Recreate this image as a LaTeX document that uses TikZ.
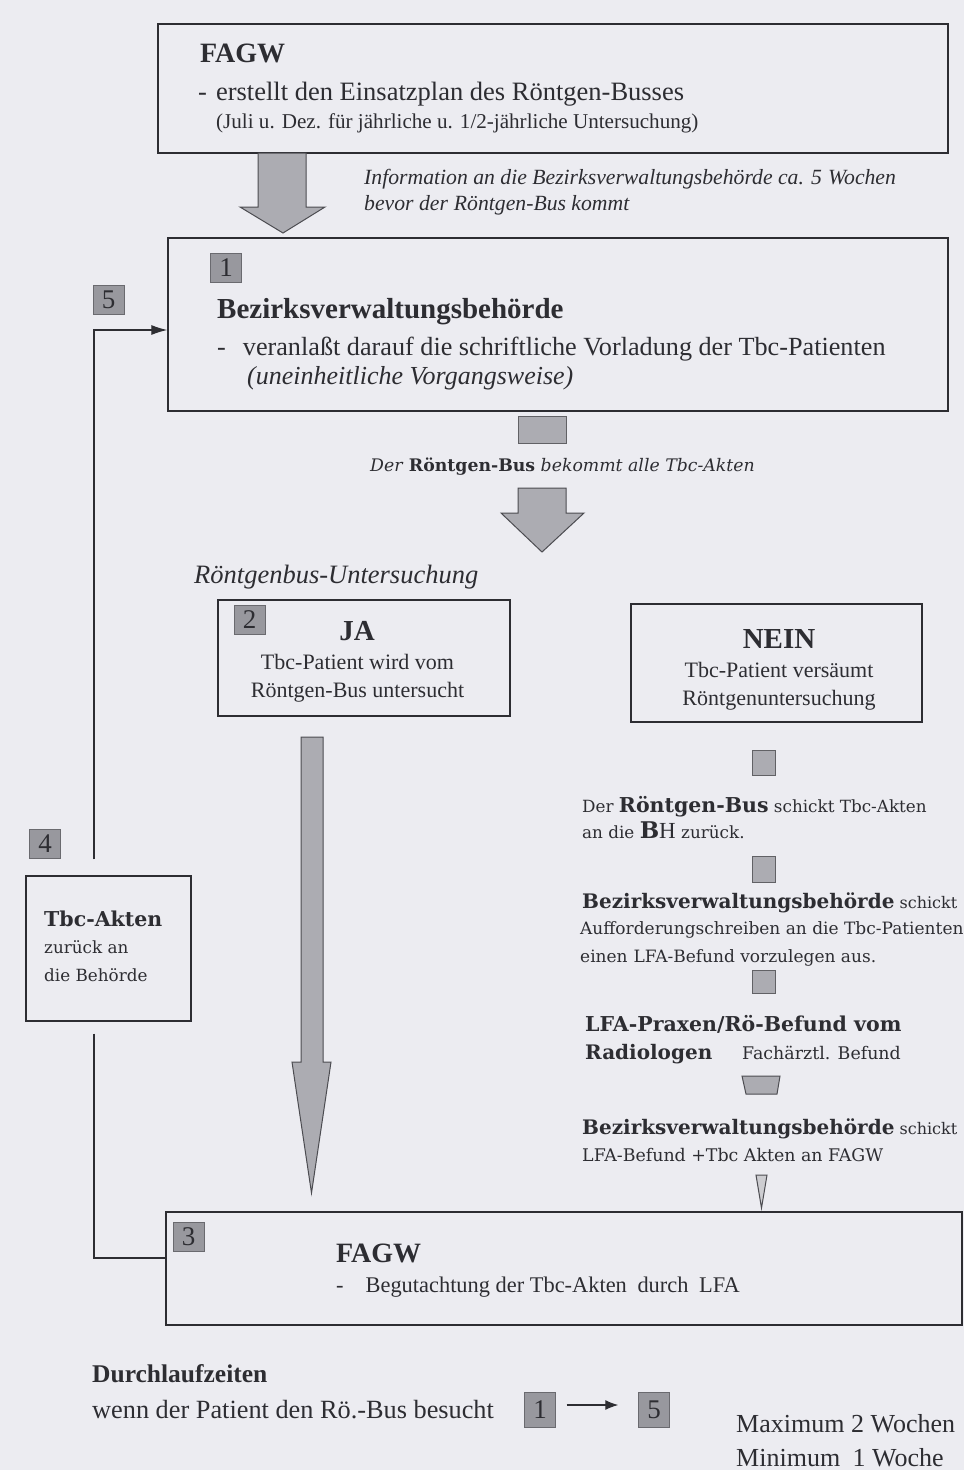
\documentclass[tikz,border=0pt]{standalone}
\usepackage{fontspec}
\setmainfont{Liberation Serif}
\newfontfamily\bkfont{DejaVu Serif}
\usetikzlibrary{arrows.meta}
\usetikzlibrary{calc}
\definecolor{paper}{RGB}{236,236,241}
\definecolor{ink}{RGB}{45,45,50}
\definecolor{badgegray}{RGB}{152,152,158}
\definecolor{arrowgray}{RGB}{172,172,178}
\newcommand{\fsz}[1]{\fontsize{#1}{#1}\selectfont}
\tikzset{
  box/.style={draw=ink, line width=1.3pt, inner sep=0pt},
  badge/.style={fill=badgegray, draw=badgegray!70!black, line width=0.4pt,
    minimum width=31pt, minimum height=29pt, inner sep=0pt, text=ink, font=\fsz{27}},
  txt/.style={anchor=base west, inner sep=0pt, text=ink},
  ctxt/.style={anchor=base, inner sep=0pt, text=ink},
  fat/.style={fill=arrowgray, draw=ink!85, line width=1pt, line join=miter},
  gsq/.style={fill=arrowgray, draw=ink!75, line width=1pt, inner sep=0pt},
  link/.style={draw=ink, line width=1.2pt}
}

\begin{document}
\begin{tikzpicture}[x=1pt,y=-1pt]
	\useasboundingbox (0,0) rectangle (964,1470);
	\fill[paper] (0,0) rectangle (964,1470);

	% boxes
	\node[box, minimum width=790pt, minimum height=129pt] (fagw) at (553,88.5) {};
	\node[box, minimum width=780pt, minimum height=173pt] (bvb) at (558,324.5) {};
	\node[box, minimum width=292pt, minimum height=116pt] (ja) at (364,658) {};
	\node[box, minimum width=291pt, minimum height=118pt] (nein) at (776.5,663) {};
	\node[box, minimum width=165pt, minimum height=145pt] (tbc) at (108.5,948.5) {};
	\node[box, minimum width=796pt, minimum height=113pt] (fagwb) at (564,1268.5) {};

	% number badges
	\node[badge] (b1) at (226,267.5) {1};
	\node[badge] (b5) at (108.5,299.5) {5};
	\node[badge] (b2) at (249.5,620) {2};
	\node[badge] (b4) at (45,844) {4};
	\node[badge] (b3) at (188.5,1237) {3};
	\node[badge, minimum height=35pt] (c1) at (540,1410) {1};
	\node[badge, minimum height=35pt] (c5) at (654,1410) {5};

	% FAGW
	\node[txt, font=\bfseries\fsz{28}] (t1) at (200,62) {FAGW};
	\node[txt, font=\fsz{26.5}] (t2) at (198,100) {-\hspace{9pt}erstellt den Einsatzplan des Röntgen-Busses};
	\node[txt, font=\fsz{21.1}] (t3) at (216,128) {(Juli u. Dez. für jährliche u. 1/2-jährliche Untersuchung)};

	\draw[fat] (258,153) -- (306,153) -- (306,207) -- (325,207) -- (283,233)
		-- (240,207) -- (258,207) -- cycle;
	\node[txt, font=\itshape\fsz{21.7}] (t4) at (364,184) {Information an die Bezirksverwaltungsbehörde ca. 5\hspace{6pt}Wochen};
	\node[txt, font=\itshape\fsz{21.7}] (t5) at (364,210) {bevor der\hspace{6pt}Röntgen-Bus kommt};

	% Bezirksverwaltungsbehoerde
	\node[txt, font=\bfseries\fsz{29}] (t6) at (217,318) {Bezirksverwaltungsbehörde};
	\node[txt, font=\fsz{26.2}] (t7) at (217,355) {-\hspace{17pt}veranlaßt darauf die schriftliche Vorladung der Tbc-Patienten};
	\node[txt, font=\itshape\fsz{26}] (t8) at (247,384) {(uneinheitliche Vorgangsweise)};

	\node[gsq, minimum width=48pt, minimum height=27pt] (q0) at (542,429.5) {};
	\node[txt, font=\bkfont\fsz{17.3}] (t9) at (370,471) {\textit{Der} \textbf{Röntgen-Bus} \textit{bekommt alle Tbc-Akten}};
	\draw[fat] (518,488) -- (566,488) -- (566,513) -- (584,513) -- (542,552)
		-- (501,513) -- (518,513) -- cycle;

	% JA / NEIN
	\node[txt, font=\itshape\fsz{26.5}] (t10) at (194,583) {Röntgenbus-Untersuchung};
	\node[ctxt, font=\bfseries\fsz{29}] (t11) at (357,640) {JA};
	\node[ctxt, font=\fsz{22}] (t12) at (357.5,669) {Tbc-Patient wird vom};
	\node[ctxt, font=\fsz{22}] (t13) at (357.5,697) {Röntgen-Bus untersucht};
	\node[ctxt, font=\bfseries\fsz{29}] (t14) at (779,648) {NEIN};
	\node[ctxt, font=\fsz{22}] (t15) at (779,677) {Tbc-Patient versäumt};
	\node[ctxt, font=\fsz{22}] (t16) at (779,705) {Röntgenuntersuchung};

	\draw[fat] (301,737) -- (323,737) -- (323,1062) -- (331,1062) -- (311.5,1193)
		-- (292,1062) -- (301,1062) -- cycle;

	% NEIN branch
	\node[gsq, minimum width=23pt, minimum height=25pt] (q1) at (763.5,762.5) {};
	\node[txt, font=\bkfont\fsz{16.8}] (t17) at (582,812) {Der {\bfseries\fsz{20.5}Röntgen-Bus} schickt Tbc-Akten};
	\node[txt, font=\bkfont\fsz{16.8}] (t18) at (582,838) {an die {\fsz{23}\bfseries B\normalfont\rmfamily H} zurück.};
	\node[gsq, minimum width=23pt, minimum height=26pt] (q2) at (763.5,869) {};
	\node[txt, font=\bkfont\fsz{16}] (t19) at (582,908) {{\bfseries\fsz{20}Bezirksverwaltungsbehörde} schickt};
	\node[txt, font=\bkfont\fsz{17}] (t20) at (580,934) {Aufforderungschreiben an die Tbc-Patienten};
	\node[txt, font=\bkfont\fsz{17}] (t21) at (580,962) {einen\hspace{6pt}LFA-Befund vorzulegen aus.};
	\node[gsq, minimum width=23pt, minimum height=23pt] (q3) at (763.5,981.5) {};
	\node[txt, font=\bkfont\bfseries\fsz{20.5}] (t22) at (585,1031) {LFA-Praxen/Rö-Befund vom};
	\node[txt, font=\bkfont\bfseries\fsz{20}] (t23) at (585,1059) {Radiologen};
	\node[txt, font=\bkfont\fsz{17.4}] (t24) at (742,1059) {Fachärztl. Befund};
	\draw[fat] (742,1076) -- (780,1076) -- (777,1094) -- (746,1094) -- cycle;
	\node[txt, font=\bkfont\fsz{16}] (t25) at (582,1134) {{\bfseries\fsz{20}Bezirksverwaltungsbehörde} schickt};
	\node[txt, font=\bkfont\fsz{17.4}] (t26) at (582,1161) {LFA-Befund +Tbc Akten an FAGW};
	\draw[fill=arrowgray!60, draw=ink!85, line width=1pt] (756,1175) -- (767,1175) -- (761.5,1208) -- cycle;

	% Tbc-Akten zurueck
	\node[txt, font=\bkfont\bfseries\fsz{20.5}] (t27) at (44,926) {Tbc-Akten};
	\node[txt, font=\bkfont\fsz{16.8}] (t28) at (44,953) {zurück an};
	\node[txt, font=\bkfont\fsz{16.8}] (t29) at (44,981) {die Behörde};
	\draw[link, -{Latex[length=16pt,width=10pt]}]
		([xshift=-14.5pt,yshift=16pt]tbc.north) |- ([yshift=-5.5pt]bvb.west);
	\draw[link] ([xshift=-14.5pt,yshift=-12pt]tbc.south) |- ([yshift=10.5pt]fagwb.west);

	% FAGW unten
	\node[txt, font=\bfseries\fsz{28}] (t30) at (336,1262) {FAGW};
	\node[txt, font=\fsz{22.4}] (t31) at (336,1292) {-\hspace{22pt}Begutachtung der Tbc-Akten\hspace{5pt} durch\hspace{5pt} LFA};

	% Durchlaufzeiten
	\node[txt, font=\bfseries\fsz{25.5}] (t32) at (92,1382) {Durchlaufzeiten};
	\node[txt, font=\fsz{26.3}] (t33) at (92,1418) {wenn der Patient den Rö.-Bus besucht};
	\draw[link, -{Latex[length=13pt,width=10pt]}]
		([xshift=11pt,yshift=5pt]c1.east) -- ([xshift=-20pt,yshift=5pt]c5.west);
	\node[txt, font=\fsz{26}] (t34) at (736,1432) {Maximum 2 Wochen};
	\node[txt, font=\fsz{26}] (t35) at (736,1466) {Minimum\hspace{6pt} 1 Woche};
\end{tikzpicture}
\end{document}
